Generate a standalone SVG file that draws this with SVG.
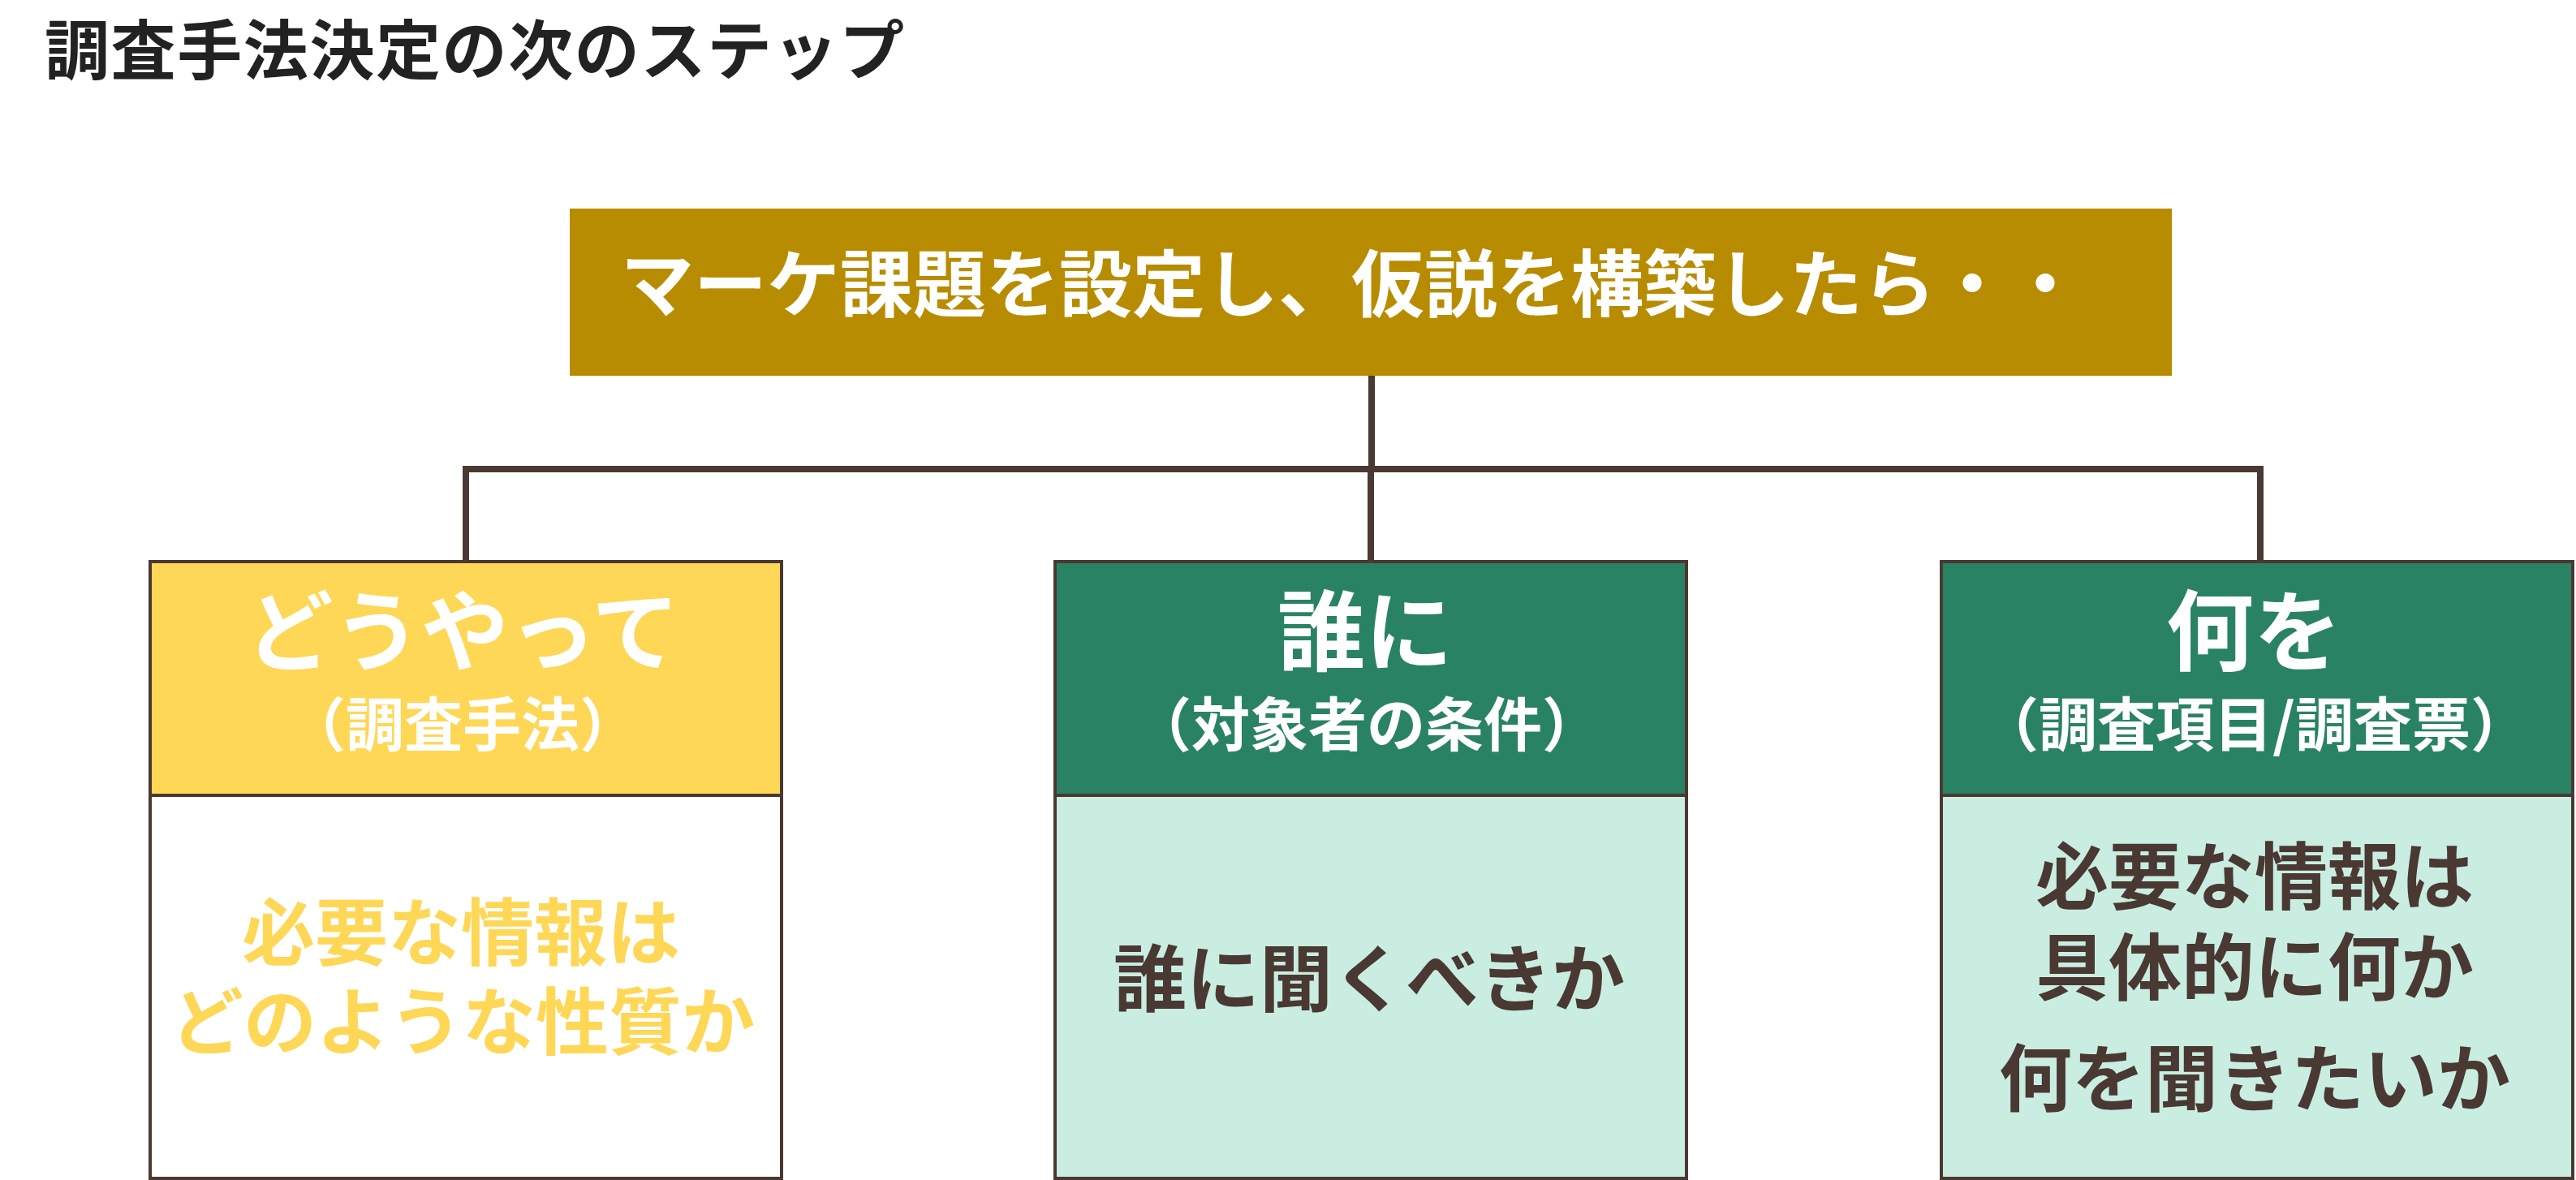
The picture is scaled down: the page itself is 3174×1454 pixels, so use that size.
<svg xmlns="http://www.w3.org/2000/svg" width="3174" height="1454" viewBox="0 0 3174 1454">
<style>
text{font-family:"Noto Sans CJK JP","Noto Sans CJK SC",sans-serif;font-weight:700;text-anchor:middle}
.conn{stroke:#4a3832;stroke-width:8;fill:none}
.box{stroke:#4a3832;stroke-width:4}
.w{fill:#ffffff}
.big{font-size:108px}
.sub{font-size:72px}
.body{font-size:90px}
.dark{fill:#4a3832}
.yel{fill:#ffd757}
</style>
<rect width="3174" height="1454" fill="#ffffff"/>
<text x="55" y="91" style="text-anchor:start;font-size:80px;letter-spacing:1.6px;fill:#222222">調査手法決定の次のステップ</text>
<g id="connectors">
<line class="conn" x1="1690" y1="463" x2="1690" y2="578"/>
<line class="conn" x1="570" y1="578" x2="2789" y2="578"/>
<line class="conn" x1="574" y1="578" x2="574" y2="692"/>
<line class="conn" x1="1689" y1="578" x2="1689" y2="692"/>
<line class="conn" x1="2785" y1="578" x2="2785" y2="692"/>
</g>
<g id="main">
<rect x="702" y="257" width="1974" height="206" fill="#b88c00"/>
<text class="w" x="765" y="383" style="text-anchor:start;font-size:90px">マーケ課題を設定し、仮説を構築したら・・</text>
</g>
<g id="how">
<rect class="box" x="185" y="692" width="778" height="288" fill="#ffd757"/>
<rect class="box" x="185" y="980" width="778" height="472" fill="#ffffff"/>
<text class="w big" x="570" y="818">どうやって</text>
<text class="w sub" x="570" y="919">（調査手法）</text>
<text class="yel body" x="568" y="1182">必要な情報は</text>
<text class="yel body" x="570" y="1292">どのような性質か</text>
</g>
<g id="who">
<rect class="box" x="1300" y="692" width="778" height="288" fill="#2a8264"/>
<rect class="box" x="1300" y="980" width="778" height="472" fill="#c9ede1"/>
<text class="w big" x="1682" y="818">誰に</text>
<text class="w sub" x="1684" y="919">（対象者の条件）</text>
<text class="dark body" x="1687" y="1239">誰に聞くべきか</text>
</g>
<g id="what">
<rect class="box" x="2392" y="692" width="778" height="288" fill="#2a8264"/>
<rect class="box" x="2392" y="980" width="778" height="472" fill="#c9ede1"/>
<text class="w big" x="2777" y="818">何を</text>
<text class="w sub" x="2778" y="919">（調査項目/調査票）</text>
<text class="dark body" x="2778" y="1113">必要な情報は</text>
<text class="dark body" x="2778" y="1225">具体的に何か</text>
<text class="dark body" x="2778" y="1362">何を聞きたいか</text>
</g>
</svg>
